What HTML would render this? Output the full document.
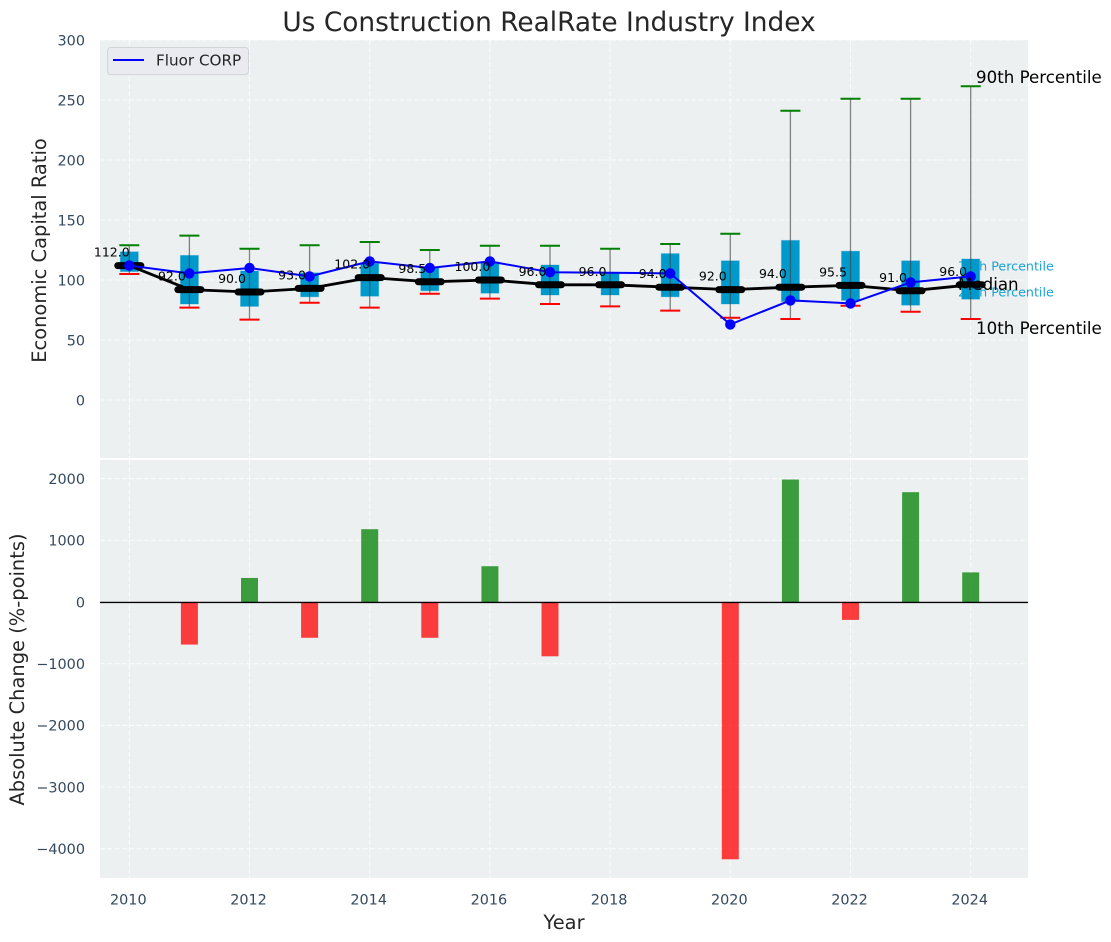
<!DOCTYPE html>
<html>
<head>
<meta charset="utf-8">
<style>
html,body{margin:0;padding:0;background:#fff;}
svg{display:block;font-family:"DejaVu Sans","Liberation Sans",sans-serif;}
</style>
</head>
<body>
<svg id="chart" xmlns="http://www.w3.org/2000/svg" width="1111" height="942" viewBox="0 0 1111 942">
  <rect x="100" y="40" width="928" height="418" fill="#ecf0f1"/>
  <rect x="100" y="460" width="928" height="418" fill="#ecf0f1"/>
  <g id="grid"></g>
  <g id="top"></g>
  <g id="bottom"></g>
  <g id="ticks"></g>
  <text x="549" y="31" font-size="26.4" text-anchor="middle" fill="#262626">Us Construction RealRate Industry Index</text>
  <text transform="translate(46,250.5) rotate(-90)" font-size="19.44" text-anchor="middle" fill="#262626">Economic Capital Ratio</text>
  <text transform="translate(24,669.5) rotate(-90)" font-size="19.44" text-anchor="middle" fill="#262626">Absolute Change (%-points)</text>
  <text x="564" y="929" font-size="19.44" text-anchor="middle" fill="#262626">Year</text>
  <g>
    <rect x="107.5" y="47.5" width="141" height="27" rx="3" fill="#e9ebf0" stroke="#d2d4d8"/>
    <line x1="113" y1="60" x2="144" y2="60" stroke="#0000ff" stroke-width="2"/>
    <text x="156" y="65.5" font-size="15.2" fill="#262626">Fluor CORP</text>
  </g>
  <g>
    <text x="958" y="270.5" font-size="12.7" fill="#0099cc" fill-opacity="0.9">75th Percentile</text>
    <text x="958" y="296.5" font-size="12.7" fill="#0099cc" fill-opacity="0.9">25th Percentile</text>
    <text x="976" y="83" font-size="16.67" fill="#000">90th Percentile</text>
    <text x="958" y="290" font-size="16.67" fill="#000">Median</text>
    <text x="976" y="334" font-size="16.67" fill="#000">10th Percentile</text>
  </g>
</svg>
<script>
const years = [2010,2011,2012,2013,2014,2015,2016,2017,2018,2019,2020,2021,2022,2023,2024];
const p90 = [129,137,126,129,131.7,125,128.5,128.5,126,130,138.5,241,251,251,261.5];
const p75 = [123.5,120.5,107.5,106,114,110,115,112.5,106,122,116,133,124,116,117.5];
const p25 = [107,80,78,86,86.5,91,89,87.5,87.5,86,80,82,83,79,84];
const p10 = [105,77,67,81,77,88.5,84.5,80,78,74.5,68.5,67.5,78.5,73.5,67.5];
const medians = [112,92,90,93,102,98.5,100,96,96,94,92,94,95.5,91,96];
const fluorLine = [112,105.5,110,103,115.5,110,115.5,106.5,106,105.5,63,83,80.5,98,103];
const fluorMarkers = [112,105.5,110,103,115.5,110,115.5,106.5,null,105.5,63,83,80.5,98,103];
const changes = [0,-690,390,-580,1180,-580,580,-880,0,0,-4170,1985,-290,1780,480];
const xTickLabels = [2010,2012,2014,2016,2018,2020,2022,2024];
const topYTicks = [0,50,100,150,200,250,300];
const bottomYTicks = [-4000,-3000,-2000,-1000,0,1000,2000];

const NS = 'http://www.w3.org/2000/svg';
const xPos = v => 129.3 + (v - 2010) * 60.1;
const yTop = v => 400 - v * 1.2;
const yBottom = v => 602 - v * 0.0617;
const topG = document.getElementById('top');
const bottomG = document.getElementById('bottom');
const gridG = document.getElementById('grid');
const ticksG = document.getElementById('ticks');

function mk(parent, tag, attrs) {
  const el = document.createElementNS(NS, tag);
  for (const k in attrs) el.setAttribute(k, attrs[k]);
  parent.appendChild(el);
  return el;
}

const gridStyle = {stroke:'#ffffff', 'stroke-width':1.1, 'stroke-dasharray':'5.1 2.2', 'stroke-opacity':0.75};

xTickLabels.forEach(t => {
  [[40,458],[460,878]].forEach(r => {
    const el = mk(gridG, 'line', {x1:xPos(t), x2:xPos(t), y1:r[0], y2:r[1], ...gridStyle});
    
    
  });
  const lab = mk(ticksG, 'text', {x:xPos(t)-1, y:904.7, 'font-size':14.4, 'text-anchor':'middle', fill:'#34495e'});
  lab.textContent = t;
  
  
});

topYTicks.forEach(t => {
  const el = mk(gridG, 'line', {x1:100, x2:1028, y1:yTop(t), y2:yTop(t), ...gridStyle});
  
  
  const lab = mk(ticksG, 'text', {x:85, y:yTop(t)+5.3, 'font-size':14.4, 'text-anchor':'end', fill:'#34495e'});
  lab.textContent = t;
  
  
});

bottomYTicks.forEach(t => {
  const el = mk(gridG, 'line', {x1:100, x2:1028, y1:yBottom(t), y2:yBottom(t), ...gridStyle});
  
  
  const lab = mk(ticksG, 'text', {x:85, y:yBottom(t)+5.3, 'font-size':14.4, 'text-anchor':'end', fill:'#34495e'});
  lab.textContent = String(t).replace('-', '\u2212');
  
  
});

years.forEach((yr, i) => {
  const x = xPos(yr);
  const box = mk(topG, 'rect', {x:x-9, width:18, y:yTop(p75[i]), height:yTop(p25[i])-yTop(p75[i]), fill:'#0099cc', stroke:'#0099cc', 'stroke-opacity':0.3});
  
  
  const whisker = mk(topG, 'line', {x1:x, x2:x, y1:yTop(p90[i]), y2:yTop(p10[i]), stroke:'#444', 'stroke-width':1.3, 'stroke-opacity':0.65});
  
  
  const capHi = mk(topG, 'line', {x1:x-10, x2:x+10, y1:yTop(p90[i]), y2:yTop(p90[i]), stroke:'#008000', 'stroke-width':2});
  
  
  const capLo = mk(topG, 'line', {x1:x-10, x2:x+10, y1:yTop(p10[i]), y2:yTop(p10[i]), stroke:'#ff0000', 'stroke-width':2});
  
  
});

const medianLine = mk(topG, 'polyline', {points:years.map((yr,i)=>xPos(yr)+','+yTop(medians[i])).join(' '), fill:'none', stroke:'#000', 'stroke-width':2.8, 'stroke-linejoin':'round'});



years.forEach((yr, i) => {
  const x = xPos(yr), y = yTop(medians[i]);
  const seg = mk(topG, 'line', {x1:x-11.5, x2:x+11.5, y1:y, y2:y, stroke:'#000', 'stroke-width':7, 'stroke-linecap':'round'});
  
  
});

const fluor = mk(topG, 'polyline', {points:years.map((yr,i)=>xPos(yr)+','+yTop(fluorLine[i])).join(' '), fill:'none', stroke:'#0000ff', 'stroke-width':2, 'stroke-linejoin':'round'});



years.forEach((yr, i) => {
  if (fluorMarkers[i] === null) return;
  const dot = mk(topG, 'circle', {cx:xPos(yr), cy:yTop(fluorMarkers[i]), r:5.2, fill:'#0000ff'});
  
  
});

years.forEach((yr, i) => {
  const lab = mk(topG, 'text', {x:xPos(yr)-17.5, y:yTop(medians[i])-9, 'font-size':12.5, 'text-anchor':'middle', fill:'#000'});
  lab.textContent = medians[i].toFixed(1);
  
  
});

years.forEach((yr, i) => {
  if (changes[i] === 0) return;
  const y0 = yBottom(0), y1 = yBottom(changes[i]);
  const bar = mk(bottomG, 'rect', {x:xPos(yr)-8.5, width:17, y:Math.min(y0,y1), height:Math.abs(y1-y0), fill:changes[i] > 0 ? '#008000' : '#ff0000', 'fill-opacity':0.75});
  
  
});

const zero = mk(bottomG, 'line', {x1:100, x2:1028, y1:yBottom(0)+0.4, y2:yBottom(0)+0.4, stroke:'#000', 'stroke-width':1.4});


</script>
</body>
</html>
